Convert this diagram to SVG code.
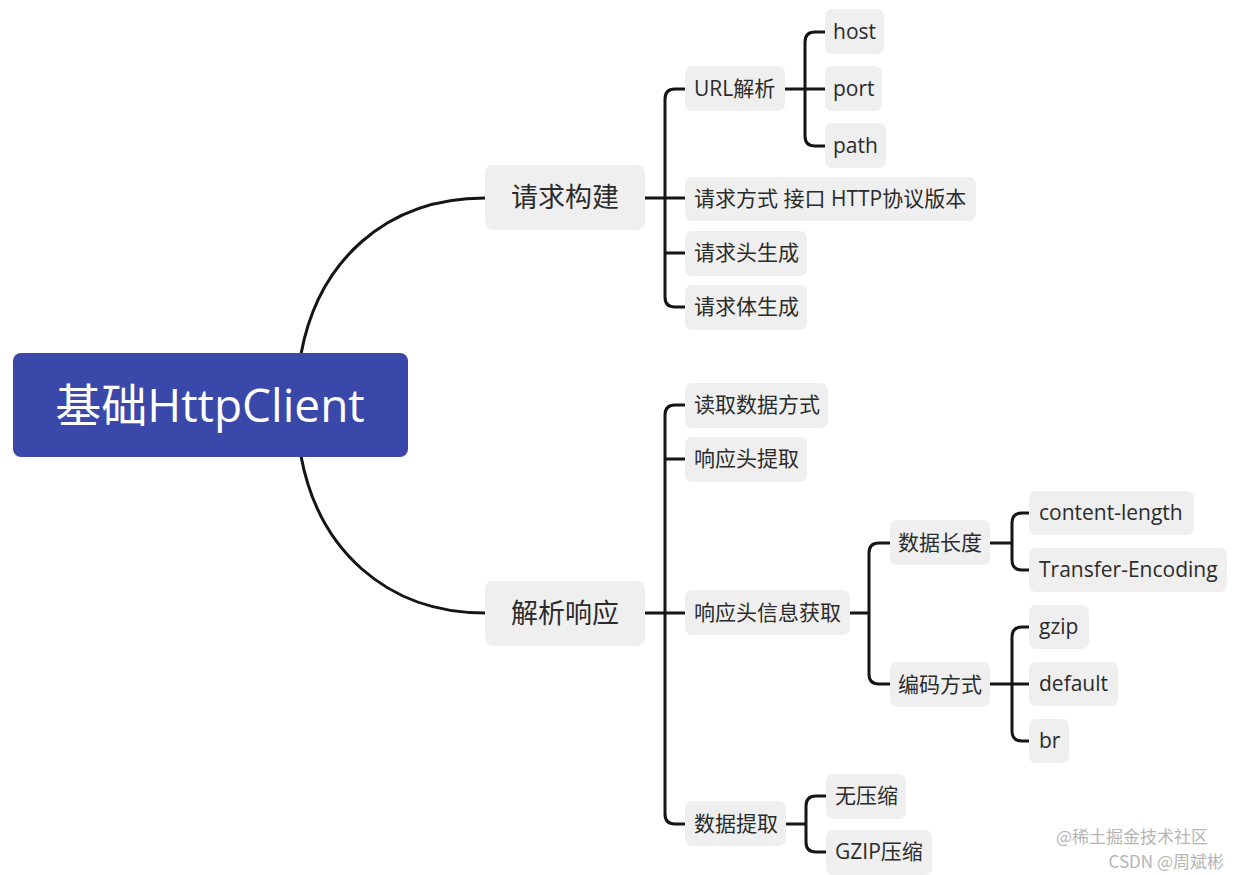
<svg xmlns="http://www.w3.org/2000/svg" width="1240" height="875" viewBox="0 0 1240 875">
<style>
.n rect{fill:#efefef;}
.n text{font-family:"Open Sans","Noto Sans CJK SC",sans-serif;font-size:21px;fill:#2b2b2b;}
.l1 text{font-size:27px;}
.c{fill:none;stroke:#151515;stroke-width:3;stroke-linecap:round;stroke-linejoin:round;}
.wm{font-family:"Noto Sans CJK SC",sans-serif;font-size:17px;fill:#b5b5b5;}
</style>
<rect width="1240" height="875" fill="#ffffff"/>
<g id="connectors">
<path class="c" d="M301,354 C318,262 385,198 485,198"/>
<path class="c" d="M301,456 C318,548 385,613 485,613"/>
<path class="c" d="M645,198 H685 M685,89 H675 Q665,89 665,99 V297 Q665,307 675,307 H685 M665,253 H685"/>
<path class="c" d="M785,89 H825 M825,32 H815 Q805,32 805,42 V136 Q805,146 815,146 H825"/>
<path class="c" d="M645,613 H685 M685,405 H675 Q665,405 665,415 V814 Q665,824 675,824 H685 M665,459 H685"/>
<path class="c" d="M850,613 H869 M890,543 H879 Q869,543 869,553 V674 Q869,684 879,684 H890"/>
<path class="c" d="M990,543 H1012 M1029,513 H1022 Q1012,513 1012,523 V560 Q1012,570 1022,570 H1029"/>
<path class="c" d="M990,684 H1029 M1029,627 H1022 Q1012,627 1012,637 V731 Q1012,741 1022,741 H1029"/>
<path class="c" d="M786,824 H806 M826,796 H816 Q806,796 806,806 V842 Q806,852 816,852 H826"/>
</g>
<g id="root">
<rect x="13" y="353" width="395" height="104" rx="8" fill="#3a48a9"/>
<text x="210" y="422" text-anchor="middle" font-family="'Open Sans','Noto Sans CJK SC',sans-serif" font-size="46" fill="#ffffff">基础HttpClient</text>
</g>
<g id="n-qqgj" class="n l1"><rect x="485" y="165" width="160" height="65" rx="8"/><text x="565" y="207" text-anchor="middle">请求构建</text></g>
<g id="n-jxxy" class="n l1"><rect x="485" y="581" width="160" height="65" rx="8"/><text x="565" y="623" text-anchor="middle">解析响应</text></g>
<g id="n-url" class="n"><rect x="685" y="66" width="100" height="45" rx="7"/><text x="694" y="96">URL解析</text></g>
<g id="n-host" class="n"><rect x="825" y="9" width="59" height="45" rx="7"/><text x="833" y="39">host</text></g>
<g id="n-port" class="n"><rect x="825" y="66" width="57" height="45" rx="7"/><text x="833" y="96">port</text></g>
<g id="n-path" class="n"><rect x="825" y="123" width="61" height="45" rx="7"/><text x="833" y="153">path</text></g>
<g id="n-method" class="n"><rect x="685" y="177" width="291" height="44" rx="7"/><text x="694" y="206">请求方式 接口 HTTP协议版本</text></g>
<g id="n-reqhead" class="n"><rect x="685" y="231" width="122" height="45" rx="7"/><text x="694" y="260">请求头生成</text></g>
<g id="n-reqbody" class="n"><rect x="685" y="285" width="122" height="45" rx="7"/><text x="694" y="314">请求体生成</text></g>
<g id="n-read" class="n"><rect x="685" y="383" width="143" height="45" rx="7"/><text x="694" y="412">读取数据方式</text></g>
<g id="n-resphead" class="n"><rect x="685" y="437" width="122" height="45" rx="7"/><text x="694" y="466">响应头提取</text></g>
<g id="n-headinfo" class="n"><rect x="685" y="590" width="165" height="45" rx="7"/><text x="694" y="620">响应头信息获取</text></g>
<g id="n-len" class="n"><rect x="890" y="520" width="100" height="45" rx="7"/><text x="898" y="550">数据长度</text></g>
<g id="n-cl" class="n"><rect x="1029" y="491" width="165" height="44" rx="7"/><text x="1039" y="520">content-length</text></g>
<g id="n-te" class="n"><rect x="1029" y="548" width="198" height="44" rx="7"/><text x="1039" y="577">Transfer-Encoding</text></g>
<g id="n-enc" class="n"><rect x="890" y="662" width="100" height="45" rx="7"/><text x="898" y="692">编码方式</text></g>
<g id="n-gzip" class="n"><rect x="1029" y="605" width="60" height="44" rx="7"/><text x="1039" y="634">gzip</text></g>
<g id="n-default" class="n"><rect x="1029" y="662" width="89" height="44" rx="7"/><text x="1039" y="691">default</text></g>
<g id="n-br" class="n"><rect x="1029" y="719" width="40" height="44" rx="7"/><text x="1039" y="748">br</text></g>
<g id="n-extract" class="n"><rect x="685" y="801" width="101" height="45" rx="7"/><text x="694" y="831">数据提取</text></g>
<g id="n-nocomp" class="n"><rect x="826" y="774" width="80" height="45" rx="7"/><text x="835" y="803">无压缩</text></g>
<g id="n-gzipcomp" class="n"><rect x="826" y="830" width="106" height="45" rx="7"/><text x="835" y="859">GZIP压缩</text></g>
<text class="wm" x="1056" y="843">@稀土掘金技术社区</text>
<text class="wm" x="1224" y="868" text-anchor="end">CSDN @周斌彬</text>
</svg>
